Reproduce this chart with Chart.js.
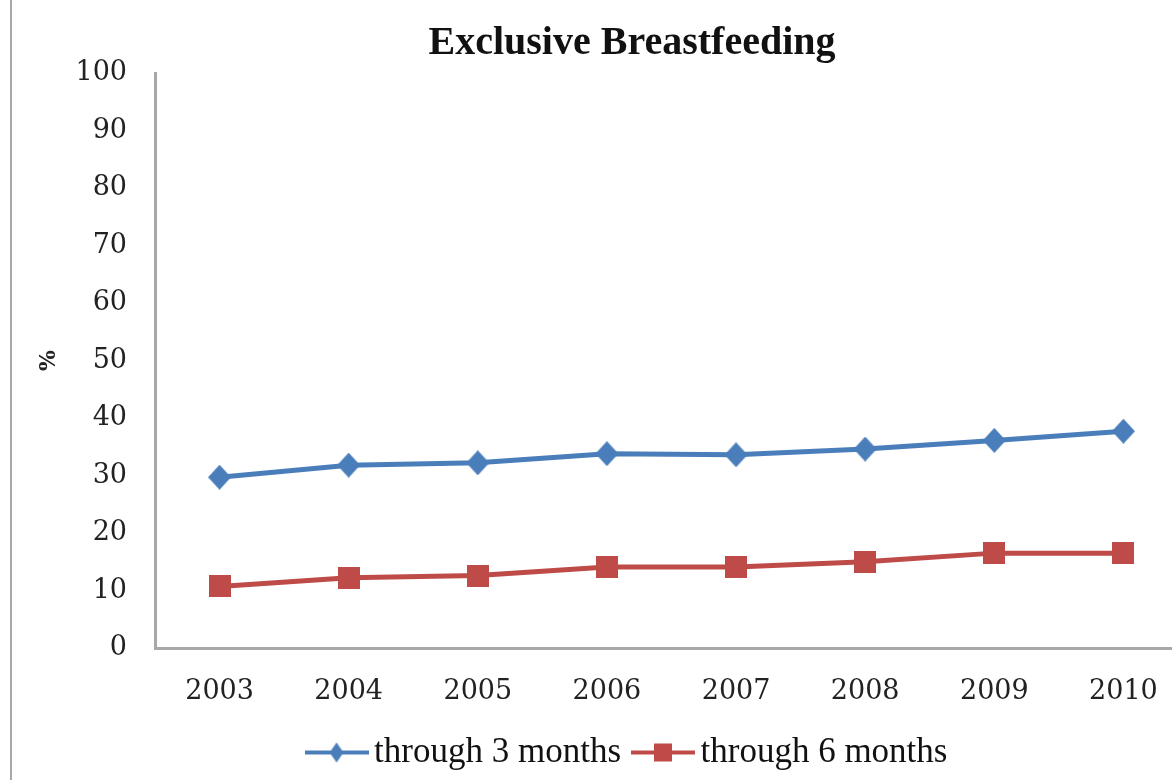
<!DOCTYPE html>
<html>
<head>
<meta charset="utf-8">
<script src="https://cdn.jsdelivr.net/npm/chart.js@4.4.1/dist/chart.umd.min.js"></script>
<style>
  html, body { margin: 0; padding: 0; background: #fff; overflow: hidden; }
  #wrap { position: absolute; left: 10px; top: 0; width: 1250px; height: 780px; border-left: 2px solid #a8a8a8; }
</style>
</head>
<body>
<div id="wrap"><canvas id="bfChart" width="1250" height="780"></canvas></div>
<script>
const years = ['2003', '2004', '2005', '2006', '2007', '2008', '2009', '2010'];
const through3 = [29.7, 31.8, 32.2, 33.8, 33.6, 34.6, 36.1, 37.7];
const through6 = [10.7, 12.2, 12.6, 14.1, 14.1, 15.0, 16.5, 16.5];
const yTicks = [0, 10, 20, 30, 40, 50, 60, 70, 80, 90, 100];

const BLUE = '#4A7EBB';
const RED = '#BE4B48';

// small canvases used as marker shapes
function diamond(w, h, color) {
  const c = document.createElement('canvas');
  c.width = w; c.height = h;
  const g = c.getContext('2d');
  g.fillStyle = color;
  g.beginPath();
  g.moveTo(w / 2, 0); g.lineTo(w, h / 2); g.lineTo(w / 2, h); g.lineTo(0, h / 2);
  g.closePath(); g.fill();
  return c;
}
function square(s, color) {
  const c = document.createElement('canvas');
  c.width = s; c.height = s;
  const g = c.getContext('2d');
  g.fillStyle = color;
  g.fillRect(0, 0, s, s);
  return c;
}
function legendIcon(w, h, color, kind) {
  const c = document.createElement('canvas');
  c.width = w; c.height = h;
  const g = c.getContext('2d');
  g.fillStyle = color;
  g.fillRect(0, h / 2 - 2, w, 4);
  if (kind === 'diamond') {
    g.beginPath();
    g.moveTo(w / 2, 1); g.lineTo(w / 2 + 7, h / 2); g.lineTo(w / 2, h - 1); g.lineTo(w / 2 - 7, h / 2);
    g.closePath(); g.fill();
  } else {
    g.fillRect(w / 2 - 9, h / 2 - 9, 18, 18);
  }
  return c;
}

const blueMark = diamond(23, 25, BLUE);
const redMark = square(22, RED);
const legendIcons = [legendIcon(64, 22, BLUE, 'diamond'), legendIcon(64, 22, RED, 'square')];

new Chart(document.getElementById('bfChart'), {
  type: 'line',
  data: {
    labels: years,
    datasets: [
      { label: 'through 3 months', data: through3, borderColor: BLUE, backgroundColor: BLUE, borderWidth: 5, pointStyle: blueMark, pointRadius: 12, fill: false, tension: 0 },
      { label: 'through 6 months', data: through6, borderColor: RED, backgroundColor: RED, borderWidth: 5, pointStyle: redMark, pointRadius: 12, fill: false, tension: 0 }
    ]
  },
  options: {
    responsive: false,
    animation: false,
    layout: { padding: { left: 64, right: 74, top: 0, bottom: 0 } },
    plugins: {
      title: {
        display: true,
        text: 'Exclusive Breastfeeding',
        color: '#111',
        font: { family: "'Liberation Serif', serif", size: 40, weight: 'bold' },
        padding: { top: 20, bottom: 5 }
      },
      legend: {
        position: 'bottom',
        labels: {
          usePointStyle: true,
          pointStyleWidth: 40,
          padding: 22,
          color: '#111',
          font: { family: "'Liberation Serif', serif", size: 35 },
          generateLabels: (chart) => Chart.defaults.plugins.legend.labels.generateLabels(chart)
            .map((item, i) => Object.assign(item, { pointStyle: legendIcons[i] }))
        }
      },
      tooltip: { enabled: false }
    },
    scales: {
      x: {
        offset: true,
        grid: { display: false },
        border: { color: '#a8a8a8', width: 3 },
        ticks: { color: '#222', padding: 20, font: { family: "'DejaVu Serif', serif", size: 27 } },
        afterFit: (s) => { s.height = 65; }
      },
      y: {
        min: 0,
        max: 100,
        afterBuildTicks: (s) => { s.ticks = yTicks.map(v => ({ value: v })); },
        grid: { display: false },
        border: { color: '#a8a8a8', width: 3 },
        ticks: { color: '#222', padding: 20, font: { family: "'DejaVu Serif', serif", size: 27 } },
        title: {
          display: true,
          text: '%',
          color: '#222',
          font: { family: "'DejaVu Serif', serif", size: 22, weight: 'bold' },
          padding: { top: -40, bottom: 0 }
        },
        afterFit: (s) => { s.width = 79; }
      }
    }
  }
});
</script>
</body>
</html>
